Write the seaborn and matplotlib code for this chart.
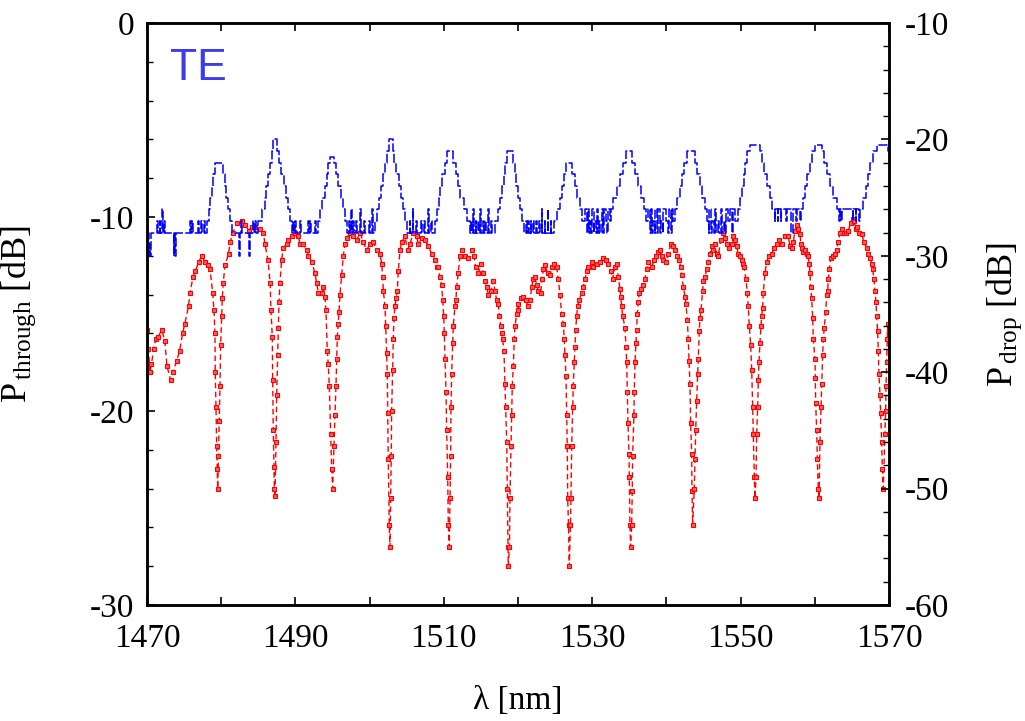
import matplotlib
matplotlib.use("Agg")
import matplotlib.pyplot as plt
from matplotlib.ticker import MultipleLocator
import seaborn as sns

# ---------------- data ----------------
# Through port (left axis), wavelength [nm] and power [dB]
red_wl = [
    1470.0, 1470.2, 1470.4, 1470.6, 1470.9, 1471.2, 1471.5, 1472.0, 1472.4, 1472.7,
    1473.2, 1473.5, 1474.0, 1474.4, 1474.8, 1475.1, 1475.6, 1475.8, 1476.2, 1476.5,
    1477.0, 1477.4, 1477.8, 1478.2, 1478.5, 1478.85, 1479.03, 1479.16, 1479.2, 1479.3,
    1479.39, 1479.47, 1479.53, 1479.63, 1479.74, 1479.84, 1479.93, 1480.07, 1480.15, 1480.28,
    1480.5, 1481.0, 1481.2, 1481.6, 1482.1, 1482.8, 1483.2, 1483.7, 1484.1, 1484.6,
    1485.2, 1485.7, 1485.9, 1486.3, 1486.6, 1486.71, 1486.89, 1486.94, 1487.02, 1487.12,
    1487.16, 1487.25, 1487.39, 1487.48, 1487.61, 1487.69, 1487.79, 1487.92, 1488.15, 1488.37,
    1488.83, 1489.04, 1489.5, 1489.95, 1490.39, 1490.62, 1491.06, 1491.52, 1491.74, 1492.2,
    1492.64, 1492.87, 1493.09, 1493.54, 1493.76, 1493.99, 1494.12, 1494.3, 1494.43, 1494.57,
    1494.76, 1494.89, 1495.03, 1495.2, 1495.34, 1495.47, 1495.57, 1495.65, 1495.78, 1495.88,
    1496.01, 1496.24, 1496.46, 1496.68, 1496.91, 1497.36, 1497.8, 1498.26, 1498.71, 1499.15,
    1499.61, 1500.05, 1500.5, 1500.95, 1501.4, 1501.63, 1501.77, 1501.85, 1502.08, 1502.17,
    1502.31, 1502.39, 1502.44, 1502.52, 1502.65, 1502.75, 1502.84, 1502.92, 1502.97, 1503.11,
    1503.19, 1503.29, 1503.42, 1503.56, 1503.73, 1503.87, 1504.1, 1504.33, 1504.77, 1505.13,
    1505.44, 1505.89, 1506.35, 1506.56, 1507.02, 1507.47, 1507.91, 1508.37, 1508.81, 1509.04,
    1509.26, 1509.49, 1509.72, 1509.85, 1509.99, 1510.07, 1510.16, 1510.3, 1510.39, 1510.53,
    1510.61, 1510.74, 1510.84, 1510.93, 1510.97, 1511.06, 1511.2, 1511.28, 1511.51, 1511.64,
    1511.73, 1511.95, 1512.18, 1512.41, 1512.86, 1513.3, 1513.76, 1514.07, 1514.3, 1514.65,
    1515.01, 1515.32, 1515.55, 1515.78, 1516.0, 1516.36, 1516.67, 1516.9, 1517.13, 1517.35,
    1517.48, 1517.67, 1517.8, 1517.94, 1518.11, 1518.25, 1518.34, 1518.48, 1518.56, 1518.65,
    1518.69, 1518.85, 1518.92, 1519.06, 1519.15, 1519.23, 1519.37, 1519.5, 1519.6, 1519.83,
    1519.96, 1520.04, 1520.4, 1520.71, 1521.04, 1521.39, 1521.62, 1521.85, 1522.06, 1522.29,
    1522.52, 1522.74, 1523.06, 1523.27, 1523.41, 1523.64, 1524.0, 1524.31, 1524.62, 1524.89,
    1525.22, 1525.43, 1525.66, 1525.89, 1526.11, 1526.24, 1526.33, 1526.47, 1526.56, 1526.64,
    1526.7, 1526.81, 1526.91, 1527.07, 1527.14, 1527.24, 1527.37, 1527.45, 1527.59, 1527.68,
    1527.78, 1527.91, 1528.05, 1528.22, 1528.58, 1528.8, 1529.03, 1529.26, 1529.47, 1529.93,
    1530.15, 1530.61, 1531.05, 1531.5, 1531.86, 1532.17, 1532.49, 1532.76, 1533.07, 1533.3,
    1533.52, 1533.75, 1533.84, 1533.98, 1534.11, 1534.42, 1534.56, 1534.65, 1534.73, 1534.82,
    1534.96, 1535.0, 1535.09, 1535.18, 1535.32, 1535.4, 1535.45, 1535.63, 1535.67, 1535.77,
    1535.9, 1535.99, 1536.08, 1536.21, 1536.35, 1536.54, 1536.89, 1537.12, 1537.34, 1537.56,
    1538.02, 1538.33, 1538.6, 1538.91, 1539.14, 1539.37, 1539.58, 1539.95, 1540.26, 1540.58,
    1540.85, 1541.16, 1541.47, 1541.74, 1541.93, 1542.06, 1542.28, 1542.51, 1542.64, 1542.82,
    1542.95, 1543.05, 1543.18, 1543.27, 1543.41, 1543.45, 1543.54, 1543.76, 1543.85, 1543.95,
    1544.08, 1544.22, 1544.3, 1544.43, 1544.53, 1544.66, 1544.89, 1544.97, 1545.2, 1545.43,
    1545.65, 1545.88, 1546.11, 1546.32, 1546.55, 1546.78, 1546.99, 1547.32, 1547.67, 1547.9,
    1548.13, 1548.48, 1548.8, 1549.02, 1549.25, 1549.47, 1549.69, 1549.92, 1550.15, 1550.28,
    1550.46, 1550.73, 1550.9, 1551.04, 1551.17, 1551.36, 1551.5, 1551.63, 1551.71, 1551.85,
    1551.94, 1552.08, 1552.17, 1552.3, 1552.39, 1552.48, 1552.61, 1552.75, 1552.84, 1552.97,
    1553.06, 1553.29, 1553.52, 1553.87, 1554.19, 1554.5, 1554.87, 1555.22, 1555.54, 1555.98,
    1556.43, 1556.66, 1556.89, 1557.1, 1557.33, 1557.56, 1557.78, 1558.01, 1558.14, 1558.32,
    1558.44, 1558.67, 1558.9, 1559.12, 1559.25, 1559.35, 1559.45, 1559.58, 1559.72, 1559.8,
    1560.03, 1560.07, 1560.12, 1560.26, 1560.34, 1560.47, 1560.57, 1560.7, 1560.84, 1560.93,
    1561.06, 1561.15, 1561.28, 1561.47, 1561.6, 1561.74, 1561.82, 1561.95, 1562.14, 1562.41,
    1562.72, 1562.95, 1563.17, 1563.4, 1563.62, 1563.94, 1564.2, 1564.52, 1564.84, 1565.11,
    1565.28, 1565.55, 1565.73, 1565.99, 1566.32, 1566.63, 1566.99, 1567.21, 1567.44, 1567.67,
    1567.8, 1567.98, 1568.11, 1568.25, 1568.34, 1568.47, 1568.56, 1568.65, 1568.79, 1568.88,
    1569.02, 1569.1, 1569.23, 1569.46, 1569.55, 1569.6, 1569.69, 1569.77, 1569.83, 1569.95,
]
red_db = [
    -15.8, -16.8, -18.0, -17.6, -16.8, -16.3, -16.2, -15.8, -16.4, -17.7,
    -18.4, -18.0, -17.4, -16.9, -16.0, -15.5, -14.6, -13.9, -13.1, -12.8,
    -12.3, -12.0, -12.3, -12.5, -12.7, -13.9, -14.8, -16.0, -18.0, -19.8,
    -21.8, -23.0, -24.0, -22.3, -20.5, -18.7, -16.6, -15.1, -14.2, -13.4,
    -12.5, -11.9, -11.3, -10.8, -10.3, -10.2, -10.4, -10.7, -10.5, -10.5,
    -10.6, -10.8, -11.4, -12.2, -13.4, -14.8, -16.2, -18.4, -21.0, -22.9,
    -24.0, -24.4, -21.6, -19.2, -17.1, -15.7, -14.4, -13.4, -12.2, -11.6,
    -11.4, -11.2, -11.0, -10.8, -11.0, -11.4, -11.4, -11.7, -12.0, -12.3,
    -12.9, -13.4, -13.9, -13.9, -13.6, -14.1, -14.8, -16.9, -17.6, -18.7,
    -21.2, -23.0, -24.0, -21.8, -20.2, -18.7, -17.3, -16.2, -15.5, -14.9,
    -14.0, -13.0, -12.0, -11.4, -11.1, -10.8, -11.0, -11.2, -10.8, -11.3,
    -11.7, -11.4, -11.3, -11.7, -11.9, -12.4, -13.1, -13.8, -14.6, -15.6,
    -17.0, -18.1, -20.1, -22.5, -25.9, -27.0, -24.5, -22.3, -20.0, -17.9,
    -16.3, -15.2, -14.6, -14.2, -13.8, -12.8, -11.7, -11.3, -11.0, -11.7,
    -11.4, -10.8, -11.0, -11.4, -11.1, -11.2, -11.5, -11.9, -12.2, -12.6,
    -12.6, -13.1, -13.5, -14.3, -15.1, -16.0, -17.3, -19.0, -21.0, -23.4,
    -25.9, -27.0, -24.5, -22.3, -19.8, -18.1, -16.5, -15.6, -14.6, -14.3,
    -13.6, -12.9, -12.0, -11.7, -12.0, -12.1, -11.7, -12.0, -12.6, -12.9,
    -12.4, -12.9, -13.3, -13.6, -14.0, -13.8, -13.3, -13.8, -14.3, -14.5,
    -15.1, -15.6, -16.0, -16.3, -16.9, -18.6, -19.8, -21.6, -24.0, -27.0,
    -28.0, -27.0, -24.5, -21.8, -20.2, -18.7, -17.7, -16.3, -15.6, -15.0,
    -14.5, -14.8, -14.2, -14.1, -14.3, -14.6, -14.3, -13.6, -13.2, -13.1,
    -13.5, -13.8, -13.9, -13.2, -12.7, -12.5, -12.9, -13.0, -12.6, -12.4,
    -12.6, -13.2, -14.0, -15.0, -15.5, -16.3, -17.1, -18.2, -20.2, -21.8,
    -24.5, -25.9, -28.0, -25.9, -24.5, -21.8, -19.8, -18.7, -17.5, -16.7,
    -15.8, -15.1, -14.6, -14.3, -13.9, -13.6, -13.2, -12.8, -12.6, -12.3,
    -12.6, -12.4, -12.3, -12.1, -12.2, -12.4, -12.8, -13.2, -12.6, -12.4,
    -13.1, -13.7, -14.1, -14.6, -15.1, -15.7, -16.7, -17.5, -19.0, -20.6,
    -22.2, -23.4, -25.9, -27.0, -25.9, -24.1, -22.3, -20.2, -19.0, -17.5,
    -16.5, -15.8, -15.0, -14.4, -13.9, -13.7, -13.5, -13.2, -12.7, -12.3,
    -12.6, -12.2, -12.0, -11.8, -11.7, -12.0, -12.2, -12.3, -11.9, -11.4,
    -11.5, -11.7, -12.0, -12.2, -12.6, -13.0, -13.6, -14.1, -14.5, -15.3,
    -16.3, -17.4, -18.6, -20.6, -22.2, -24.1, -25.9, -24.0, -22.5, -21.0,
    -19.5, -18.1, -17.3, -15.9, -15.2, -14.8, -13.8, -13.3, -13.1, -12.7,
    -12.3, -11.9, -11.5, -11.7, -11.4, -11.9, -12.0, -11.2, -10.8, -11.1,
    -11.4, -11.6, -11.4, -11.0, -11.2, -11.5, -11.9, -12.0, -12.2, -12.4,
    -12.6, -13.2, -13.9, -14.6, -15.6, -16.6, -17.9, -19.8, -21.2, -23.4,
    -24.5, -23.4, -21.2, -19.8, -18.4, -17.5, -16.5, -15.6, -15.1, -14.7,
    -13.9, -12.9, -12.3, -12.0, -11.9, -11.6, -11.4, -11.2, -11.4, -11.0,
    -11.0, -11.5, -11.6, -11.3, -10.7, -10.4, -10.6, -10.9, -11.4, -11.6,
    -11.8, -11.7, -11.9, -12.0, -12.4, -12.9, -13.6, -14.2, -15.2, -16.3,
    -17.3, -18.3, -19.6, -21.0, -22.5, -24.0, -24.5, -21.6, -19.8, -18.6,
    -17.1, -16.3, -15.7, -14.9, -14.0, -13.8, -13.2, -12.7, -12.1, -12.0,
    -11.9, -11.7, -11.3, -10.8, -10.6, -10.8, -10.8, -10.7, -10.3, -10.1,
    -10.2, -10.6, -10.5, -10.8, -10.9, -11.3, -11.6, -11.9, -12.1, -12.4,
    -12.7, -13.2, -13.8, -14.4, -15.1, -15.9, -16.9, -18.1, -19.2, -20.1,
    -21.6, -23.0, -24.0, -21.2, -20.0, -18.7, -17.5, -16.3, -15.5, -15.8,
]

# Drop port (right axis), step-quantised trace
blue_wl = [
    1470.0, 1470.05, 1470.15, 1470.25, 1470.35, 1470.45, 1470.55, 1471.4, 1471.5, 1471.7,
    1471.8, 1472.0, 1472.1, 1472.3, 1472.4, 1473.6, 1473.7, 1473.8, 1473.9, 1475.8,
    1475.9, 1476.1, 1476.2, 1476.9, 1477.0, 1477.3, 1477.45, 1477.7, 1477.85,
    1478.1, 1478.3, 1478.5, 1478.7, 1478.9, 1479.15, 1480.2, 1480.45, 1480.7, 1480.95, 1481.2, 1481.5,
    1482.4, 1482.5, 1482.7, 1482.8, 1483.8, 1483.9, 1484.3, 1484.4, 1484.6, 1484.7,
    1485.0, 1485.45, 1485.85, 1486.1, 1486.35, 1486.55, 1486.8, 1487.0, 1487.55, 1487.8,
    1488.1, 1488.45, 1488.7, 1489.0, 1489.25, 1489.5,
    1489.7, 1489.8, 1490.0, 1490.1, 1490.6, 1490.7, 1491.7, 1491.8, 1492.0, 1492.1, 1492.7, 1492.8,
    1493.1, 1493.35, 1493.65, 1493.95, 1494.2, 1494.45, 1494.7, 1495.2, 1495.5, 1495.8,
    1496.1, 1496.4, 1496.7, 1497.0,
    1497.2, 1497.3, 1497.5, 1497.6, 1497.8, 1497.9, 1498.2, 1498.3, 1498.7, 1498.8,
    1499.3, 1499.4, 1499.9, 1500.0, 1500.3, 1500.45,
    1500.7, 1501.0, 1501.3, 1501.6, 1501.85, 1502.1, 1502.35, 1502.6, 1503.1, 1503.35,
    1503.6, 1503.9, 1504.2, 1504.5, 1504.8, 1505.1,
    1505.4, 1505.5, 1505.8, 1505.9, 1506.3, 1506.4, 1506.9, 1507.0, 1507.4, 1507.5,
    1507.9, 1508.0, 1508.3, 1508.4,
    1508.8, 1509.05, 1509.3, 1509.55, 1509.8, 1510.1, 1510.5, 1511.3, 1511.6, 1511.9,
    1512.2, 1512.7, 1513.1, 1513.5,
    1513.7, 1513.8, 1514.0, 1514.1, 1514.3, 1514.4, 1514.6, 1514.7, 1514.9, 1515.0,
    1515.3, 1515.4, 1515.6, 1515.7, 1516.0, 1516.1, 1516.4, 1516.5,
    1516.9, 1517.3, 1517.55, 1517.8, 1518.05, 1518.3, 1518.55, 1519.3, 1519.55, 1519.8,
    1520.05, 1520.3, 1520.55, 1520.8,
    1521.1, 1521.2, 1521.4, 1521.5, 1521.7, 1521.8, 1522.0, 1522.1, 1522.4, 1522.5,
    1522.8, 1522.9, 1523.2, 1523.3, 1523.6, 1523.7, 1524.0, 1524.1, 1524.4, 1524.5,
    1524.9, 1525.3, 1525.6, 1525.9, 1526.2, 1526.5, 1527.3, 1527.7, 1528.0, 1528.35, 1528.65,
    1529.0, 1529.3, 1529.4, 1529.6, 1529.7, 1529.9, 1530.0, 1530.2, 1530.3, 1530.5,
    1530.6, 1530.8, 1530.9, 1531.1, 1531.3, 1531.5, 1531.6, 1531.8, 1532.0, 1532.1,
    1532.4, 1532.6,
    1532.85, 1533.3, 1533.7, 1534.1, 1534.6, 1535.35, 1535.8, 1536.2, 1536.6, 1537.0, 1537.3,
    1537.5, 1537.8, 1537.9, 1538.1, 1538.2, 1538.4, 1538.5, 1538.8, 1538.9, 1539.1,
    1539.3, 1539.5, 1539.6, 1539.9, 1540.2, 1540.3, 1540.6, 1540.7, 1540.95,
    1541.2, 1541.45, 1541.8, 1542.1, 1542.4, 1542.8, 1543.8, 1544.15, 1544.5, 1544.8, 1545.15,
    1545.5, 1545.7, 1545.8, 1546.0, 1546.2, 1546.4, 1546.5, 1546.7, 1546.9, 1547.1,
    1547.3, 1547.5, 1547.7, 1547.9, 1548.1, 1548.3, 1548.6, 1548.8, 1549.0, 1549.3, 1549.6,
    1549.9, 1550.15, 1550.4, 1550.65, 1550.9, 1551.3, 1552.6, 1552.9, 1553.2, 1553.5,
    1553.9, 1554.3,
    1554.6, 1554.7, 1555.0, 1555.1, 1555.4, 1555.5, 1556.1, 1556.2, 1556.8, 1557.0,
    1557.5, 1557.6, 1558.0, 1558.1,
    1558.4, 1558.7, 1558.9, 1559.35, 1559.6, 1560.0, 1561.0, 1561.3, 1561.6, 1562.05,
    1562.5, 1562.95,
    1563.3, 1563.4, 1563.6, 1563.7, 1565.1, 1565.2, 1565.5, 1565.6, 1566.0, 1566.1,
    1566.5, 1566.9, 1567.2, 1567.5, 1567.9, 1568.4, 1569.9, 1570.0,
]
blue_db = [
    -29, -30, -28, -30, -29, -30, -28, -27, -28, -27,
    -28, -26, -28, -27, -28, -30, -28, -30, -28, -27,
    -28, -27, -28, -27, -28, -27, -28, -27, -28,
    -27, -26, -25, -24, -23, -22, -23, -24, -25, -26, -27, -28,
    -30, -28, -27, -28, -30, -28, -27, -28, -27, -28,
    -27, -26, -25, -24, -23, -22, -21, -20, -21, -22,
    -23, -24, -25, -26, -27, -28,
    -27, -28, -27, -28, -27, -28, -27, -28, -27, -28, -27, -28,
    -27, -26, -25, -24, -23, -22, -21.5, -22, -23, -24,
    -25, -26, -27, -28,
    -27, -28, -26, -28, -27, -28, -27, -28, -26, -28,
    -27, -28, -27, -28, -26, -28,
    -27, -26, -25, -24, -23, -22, -21, -20, -21, -22,
    -23, -24, -25, -26, -27, -28,
    -27, -28, -26, -28, -27, -28, -27, -28, -27, -28,
    -26, -28, -27, -28,
    -27, -26, -25, -24, -23, -22, -21, -22, -23, -24,
    -25, -26, -27, -28,
    -27, -28, -26, -28, -27, -28, -27, -28, -26, -28,
    -27, -28, -27, -28, -26, -28, -27, -28,
    -27, -26, -25, -24, -23, -22, -21, -22, -23, -24,
    -25, -26, -27, -28,
    -27, -28, -27, -28, -27, -28, -27, -28, -27, -28,
    -27, -28, -26, -28, -27, -28, -26, -28, -27, -28,
    -27, -26, -25, -24, -23, -22, -23, -24, -25, -26, -27,
    -26, -28, -26, -28, -27, -28, -26, -28, -27, -28,
    -26, -28, -27, -28, -26, -28, -26, -27, -28, -26,
    -27, -26,
    -25, -24, -23, -22, -21, -22, -23, -24, -25, -26, -27,
    -26, -28, -26, -28, -27, -28, -26, -28, -26, -28,
    -27, -28, -26, -27, -28, -26, -28, -26, -27,
    -26, -25, -24, -23, -22, -21, -22, -23, -24, -25, -26,
    -27, -28, -26, -28, -27, -28, -26, -28, -27, -28,
    -26, -28, -27, -28, -26, -27, -26, -28, -26, -27, -26,
    -25, -24, -23, -22, -21, -20.5, -21, -22, -23, -24,
    -25, -26,
    -27, -26, -27, -26, -27, -26, -27, -26, -28, -26,
    -27, -26, -27, -26,
    -25, -24, -23, -22, -21, -20.5, -21, -22, -23, -24,
    -25, -26,
    -27, -26, -27, -26, -27, -26, -27, -26, -27, -26,
    -25, -24, -23, -22, -21, -20.5, -21, -21,
]

x_ticks = [1470, 1490, 1510, 1530, 1550, 1570]
left_ticks = [-30, -20, -10, 0]
right_ticks = [-60, -50, -40, -30, -20, -10]

# ---------------- style ----------------
sns.set_style("ticks")
plt.rcParams['font.family'] = ['Liberation Serif', 'DejaVu Serif']
plt.rcParams['mathtext.fontset'] = 'custom'
plt.rcParams['mathtext.rm'] = 'Liberation Serif'
plt.rcParams['mathtext.it'] = 'Liberation Serif:italic'
plt.rcParams['axes.unicode_minus'] = False
for key in ('text.color', 'axes.labelcolor', 'xtick.color', 'ytick.color', 'axes.edgecolor'):
    plt.rcParams[key] = 'black'
plt.rcParams['axes.linewidth'] = 1.8

fig = plt.figure(figsize=(10.25, 7.21), dpi=100)
ax = fig.add_axes([0.1434, 0.1609, 0.7239, 0.8072])
ax2 = ax.twinx()

sns.lineplot(x=red_wl, y=red_db, ax=ax, color='#ff0000', linewidth=1.0,
             marker='s', markersize=3.2, markeredgewidth=0.8,
             markerfacecolor='#ff6060', markeredgecolor='#ff0000',
             estimator=None, sort=False)
ax.lines[-1].set_dashes((4, 2.5))

sns.lineplot(x=blue_wl, y=blue_db, ax=ax2, color='#0000ff', linewidth=1.1,
             drawstyle='steps-post', estimator=None, sort=False)
ax2.lines[-1].set_dashes((6, 1.5))

ax.set_xlim(1470, 1570)
ax.set_ylim(-30, 0)
ax2.set_ylim(-60, -10)

ax.set_xticks(x_ticks)
ax.xaxis.set_minor_locator(MultipleLocator(10))
ax.set_yticks(left_ticks)
ax.yaxis.set_minor_locator(MultipleLocator(2))
ax2.set_yticks(right_ticks)
ax2.yaxis.set_minor_locator(MultipleLocator(2))

ax.tick_params(axis='x', which='both', direction='in', top=True, bottom=True,
               labelsize=24, pad=13, colors='black')
ax.tick_params(axis='x', which='major', length=6, width=1.2)
ax.tick_params(axis='x', which='minor', length=6, width=1.2)
ax.tick_params(axis='y', which='both', direction='in', left=True, right=False,
               labelsize=24, pad=9, colors='black')
ax.tick_params(axis='y', which='major', length=6, width=1.2)
ax.tick_params(axis='y', which='minor', length=4, width=1.0)
ax2.tick_params(axis='y', which='both', direction='in', right=True, left=False,
                labelsize=24, pad=11, colors='black')
ax2.tick_params(axis='y', which='major', length=6, width=1.2)
ax2.tick_params(axis='y', which='minor', length=4, width=1.0)

for a in (ax, ax2):
    for s in a.spines.values():
        s.set_linewidth(1.8)
        s.set_color('black')
        s.set_visible(True)

ax.set_xlabel('λ [nm]', fontsize=24)
ax.xaxis.set_label_coords(0.5, -0.138)
ax.set_ylabel(r'$\mathrm{P}_{\,\mathrm{through}}$ [dB]', fontsize=26)
ax.yaxis.set_label_coords(-0.147, 0.5)
ax2.set_ylabel(r'$\mathrm{P}_{\,\mathrm{drop}}$ [dB]', fontsize=26)
ax2.yaxis.set_label_coords(1.129, 0.5)

ax.text(0.031, 0.902, 'TE', transform=ax.transAxes, fontsize=32,
        family='Liberation Sans', color='#3c3cee', va='baseline', ha='left')

fig.savefig('out.png', dpi=100)
